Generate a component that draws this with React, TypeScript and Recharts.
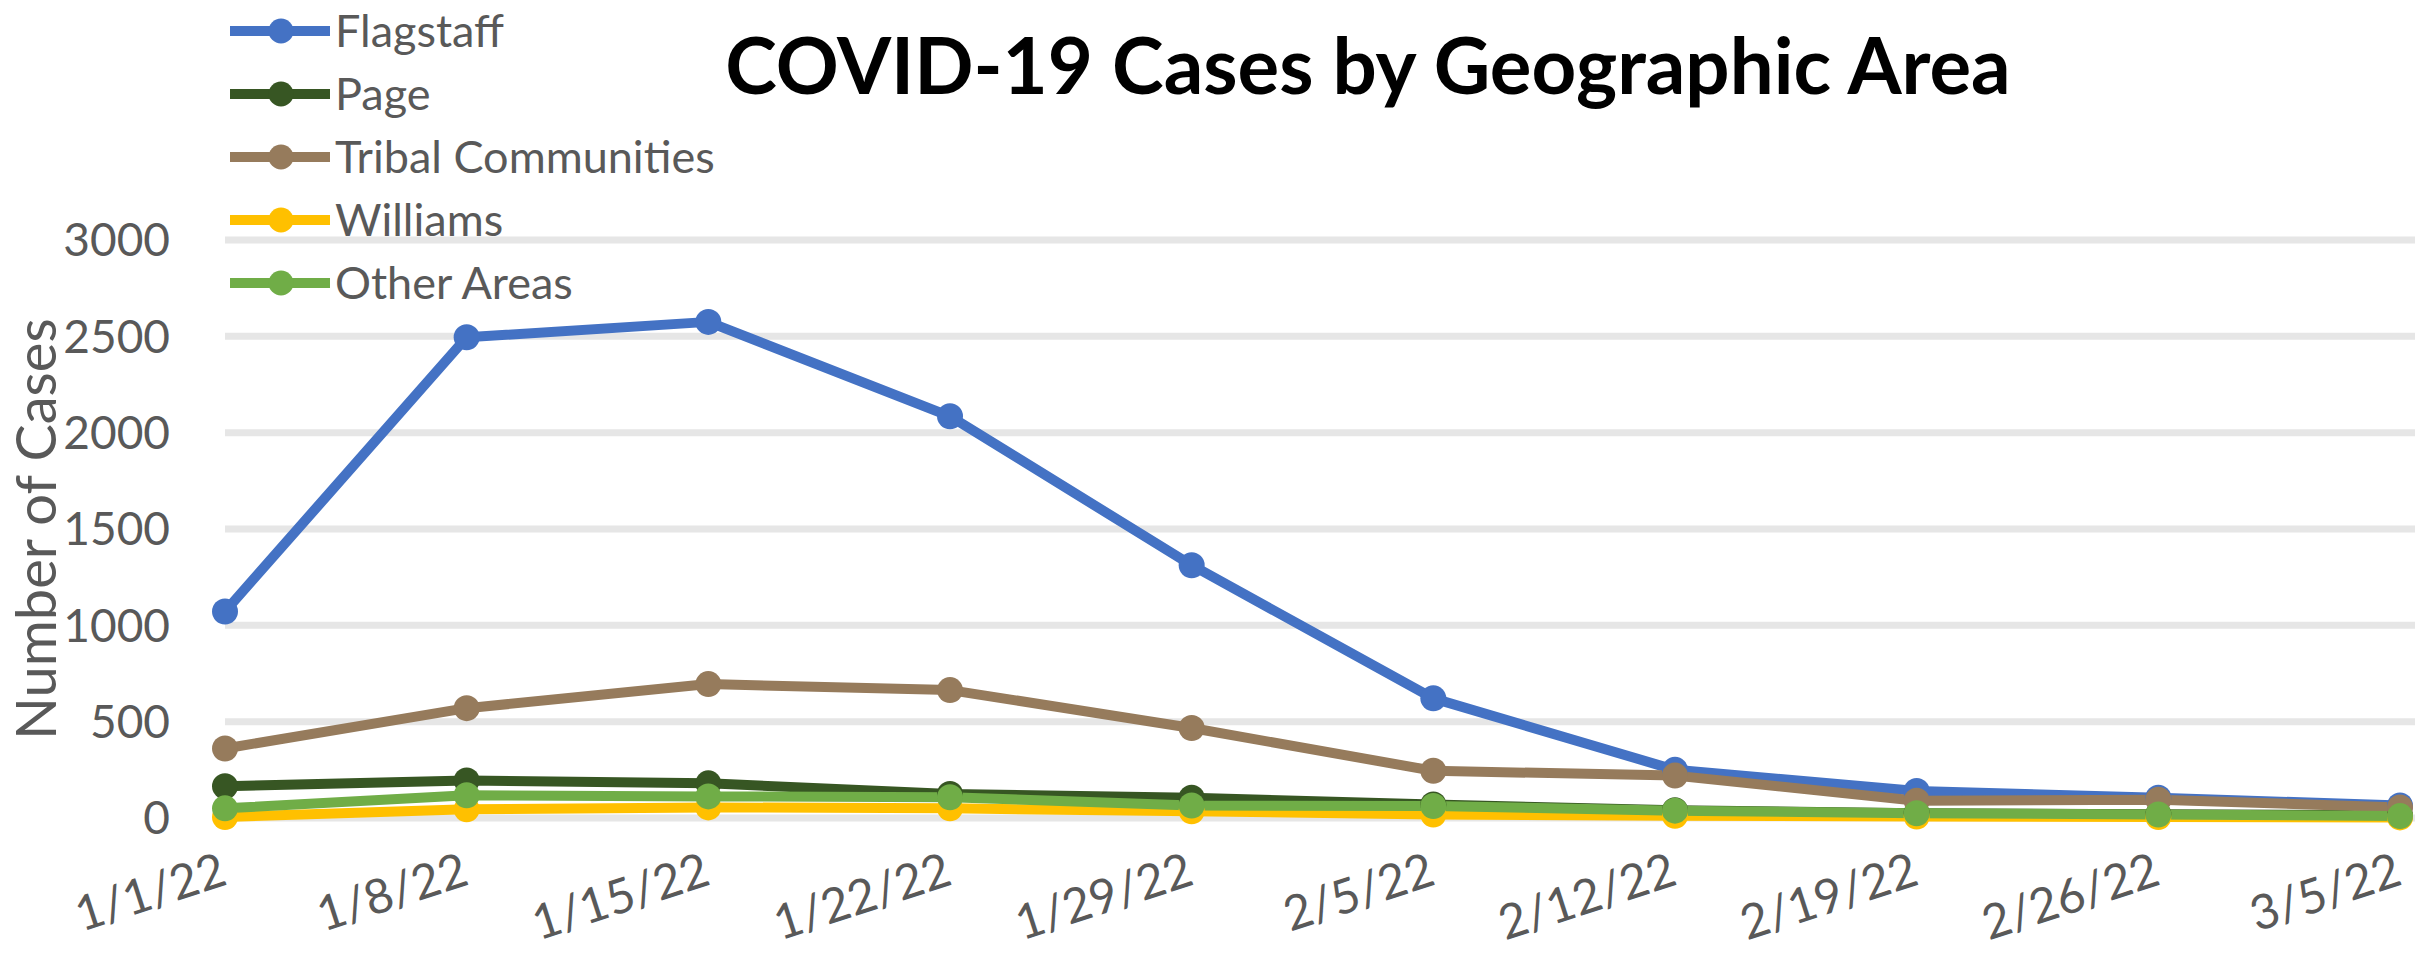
import React from "react";
import { LineChart, Line, XAxis, YAxis, CartesianGrid, Legend } from "recharts";

const dates = ["1/1/22", "1/8/22", "1/15/22", "1/22/22", "1/29/22", "2/5/22", "2/12/22", "2/19/22", "2/26/22", "3/5/22"];
const flagstaff = [1072, 2495, 2575, 2085, 1312, 621, 250, 140, 105, 65];
const page = [165, 195, 180, 125, 105, 70, 40, 25, 20, 15];
const tribal = [361, 570, 695, 664, 467, 245, 220, 90, 95, 55];
const williams = [5, 45, 55, 50, 35, 18, 12, 8, 5, 3];
const other = [50, 118, 112, 108, 65, 62, 38, 25, 18, 10];
const yTicks = [0, 500, 1000, 1500, 2000, 2500, 3000];

const series = [
  { key: "flagstaff", name: "Flagstaff", color: "#4472C4" },
  { key: "page", name: "Page", color: "#375623" },
  { key: "tribal", name: "Tribal Communities", color: "#967B5C" },
  { key: "williams", name: "Williams", color: "#FFC000" },
  { key: "other", name: "Other Areas", color: "#70AD47" },
];

const data = dates.map((d, i) => ({
  date: d,
  flagstaff: flagstaff[i],
  page: page[i],
  tribal: tribal[i],
  williams: williams[i],
  other: other[i],
}));

const FONT = "Lato, 'Open Sans', sans-serif";
const GREY = "#595959";

const XTick = ({ x, y, payload }: any) => (
  <g transform={`translate(${x + 4},${y + 58})`}>
    <text transform="rotate(-18)" textAnchor="end" fill={GREY} fontSize={48} fontFamily={FONT}>
      {payload.value}
    </text>
  </g>
);

// legend keeps the series order (recharts sorts its payload by name)
const LegendBox = () => (
  <div style={{ fontFamily: FONT, fontSize: 45, color: GREY }}>
    {series.map((s) => (
      <div key={s.key} style={{ display: "flex", alignItems: "center", height: 63, lineHeight: "63px", whiteSpace: "nowrap" }}>
        <svg width={100} height={30} style={{ marginRight: 5 }}>
          <line x1={0} y1={15} x2={100} y2={15} stroke={s.color} strokeWidth={10} />
          <circle cx={51} cy={15} r={12.5} fill={s.color} />
        </svg>
        <span>{s.name}</span>
      </div>
    ))}
  </div>
);

const AxisTitle = ({ viewBox }: any) => {
  const cx = 34;
  const cy = viewBox.y + viewBox.height / 2;
  return (
    <text x={cx} y={cy} transform={`rotate(-90 ${cx} ${cy})`} textAnchor="middle" dominantBaseline="central"
      fill={GREY} fontSize={56} fontFamily={FONT}>
      Number of Cases
    </text>
  );
};

export default function App() {
  return (
    <div style={{ position: "absolute", left: 0, top: 0, width: 2430, height: 969, background: "#fff" }}>
      <LineChart width={2430} height={969} data={data} margin={{ top: 240, right: 15, left: 0, bottom: 0 }}>
        <CartesianGrid horizontal vertical={false} stroke="#e6e6e6" strokeWidth={7} />
        <XAxis dataKey="date" height={151} axisLine={false} tickLine={false} interval={0}
          padding={{ left: 0, right: 15 }} tick={<XTick />} />
        <YAxis width={225} domain={[0, 3000]} ticks={yTicks} axisLine={false} tickLine={false}
          tickSize={6} tickMargin={49} tick={{ fill: GREY, fontSize: 46, fontFamily: FONT }}
          label={{ content: <AxisTitle /> }} />
        <Legend layout="vertical" align="center" verticalAlign="middle" content={<LegendBox />}
          wrapperStyle={{ top: -1, left: 230, width: "auto" }} />
        {series.map((s) => (
          <Line key={s.key} type="linear" dataKey={s.key} name={s.name} stroke={s.color} strokeWidth={10}
            strokeLinejoin="round" dot={{ r: 13, fill: s.color, stroke: "none" }} activeDot={false}
            isAnimationActive={false} />
        ))}
      </LineChart>
      <div style={{ position: "absolute", left: 1368, top: 25, transform: "translateX(-50%)", whiteSpace: "nowrap",
        fontFamily: FONT, fontWeight: 700, fontSize: 78, lineHeight: "78px", color: "#000" }}>
        COVID-19 Cases by Geographic Area
      </div>
    </div>
  );
}
